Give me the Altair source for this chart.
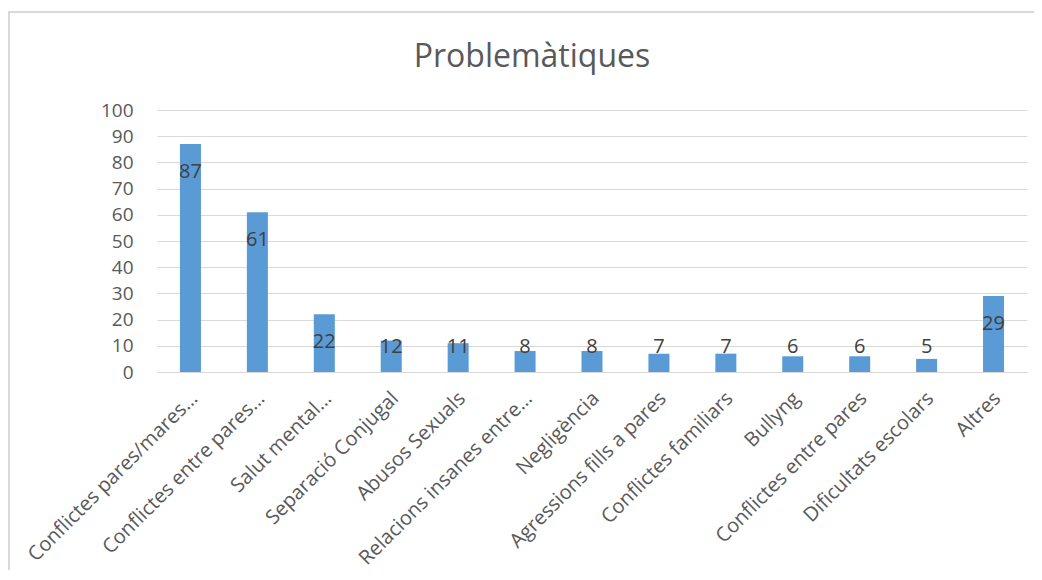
import altair as alt
import pandas as pd

categories = [
    "Conflictes pares/mares…",
    "Conflictes entre pares…",
    "Salut mental…",
    "Separació Conjugal",
    "Abusos Sexuals",
    "Relacions insanes entre…",
    "Negligència",
    "Agressions fills a pares",
    "Conflictes familiars",
    "Bullyng",
    "Conflictes entre pares",
    "Dificultats escolars",
    "Altres",
]
values = [87, 61, 22, 12, 11, 8, 8, 7, 7, 6, 6, 5, 29]
y_ticks = [0, 10, 20, 30, 40, 50, 60, 70, 80, 90, 100]
title_text = ["Problemàtiques"]

df = pd.DataFrame({"cat": categories, "v": values})

FONT = "Open Sans"
GREY = "#595959"
GRID = "#D9D9D9"

x_axis = alt.Axis(
    labelAngle=-45,
    labelAlign="right",
    labelBaseline="middle",
    labelFont=FONT,
    labelFontSize=20,
    labelColor=GREY,
    labelPadding=23,
    labelOffset=4,
    labelLimit=400,
    labelOverlap=False,
    ticks=False,
    domainColor=GRID,
    domainWidth=1,
    grid=False,
)
y_axis = alt.Axis(
    values=y_ticks,
    labelFont=FONT,
    labelFontSize=19,
    labelColor=GREY,
    labelPadding=24,
    labelOverlap=False,
    labelFlush=False,
    ticks=False,
    domain=False,
    gridColor=GRID,
    gridWidth=1,
)
x_scale = alt.Scale(paddingInner=0.686, paddingOuter=0.343)
y_scale = alt.Scale(domain=[0, 100], nice=False)

bars = alt.Chart(df).mark_bar(color="#5B9BD5").encode(
    x=alt.X("cat:N", sort=None, title=None, scale=x_scale, axis=x_axis),
    y=alt.Y("v:Q", title=None, scale=y_scale, axis=y_axis),
)

labels = alt.Chart(df).transform_calculate(
    lab="max(datum.v - 10.7, 9.6)"
).mark_text(
    font=FONT, fontSize=20, color="#404040", baseline="middle", align="center"
).encode(
    x=alt.X("cat:N", sort=None, title=None, scale=x_scale, axis=x_axis),
    y=alt.Y("lab:Q", title=None, scale=y_scale, axis=y_axis),
    text="v:Q",
)

title = alt.Chart(pd.DataFrame({"t": title_text})).mark_text(
    font=FONT, fontSize=32, color=GREY, baseline="middle", align="center"
).encode(
    x=alt.value(375), y=alt.value(-53), text="t:N"
)

frame_top = alt.Chart(df).mark_rule(color=GRID, strokeWidth=1.5).encode(
    x=alt.value(-149), x2=alt.value(1030), y=alt.value(-98)
)
frame_left = alt.Chart(df).mark_rule(color=GRID, strokeWidth=1.5).encode(
    x=alt.value(-148), y=alt.value(-98), y2=alt.value(480)
)

chart = (
    alt.layer(frame_top, frame_left, bars, labels, title)
    .properties(
        width=870,
        height=262,
        autosize=alt.AutoSizeParams(type="none"),
        padding={"left": 149, "top": 102, "right": 7, "bottom": 198},
    )
    .configure_view(stroke=None)
    .configure_axis(gridColor=GRID)
)

chart.save("out.html", embed_options={"renderer": "svg", "actions": False})
